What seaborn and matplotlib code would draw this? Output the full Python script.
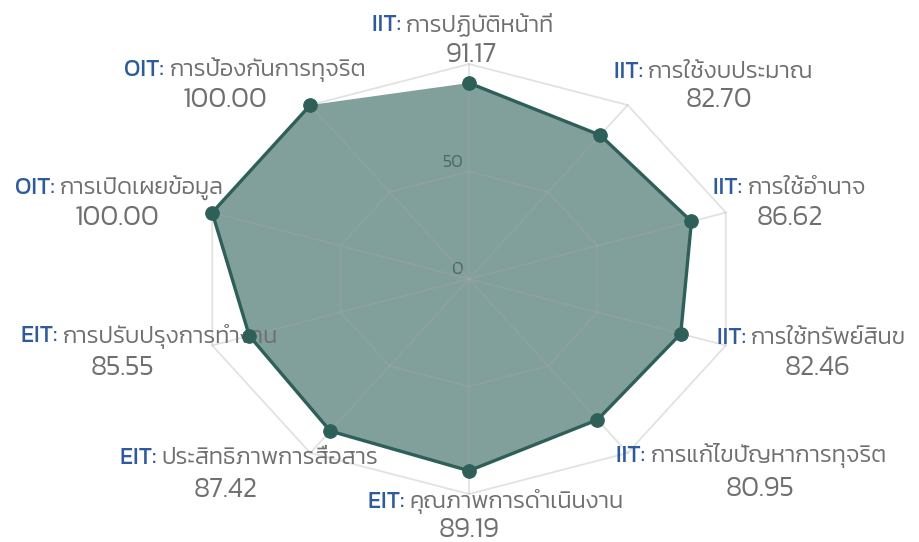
import numpy as np
import matplotlib
matplotlib.use('Agg')
import matplotlib.pyplot as plt
import seaborn as sns
from matplotlib import font_manager

# data
prefixes = ['IIT:', 'IIT:', 'IIT:', 'IIT:', 'IIT:',
            'EIT:', 'EIT:', 'EIT:', 'OIT:', 'OIT:']
categories = ['การปฏิบัติหน้าที่', 'การใช้งบประมาณ', 'การใช้อำนาจ',
              'การใช้ทรัพย์สินข', 'การแก้ไขปัญหาการทุจริต',
              'คุณภาพการดำเนินงาน', 'ประสิทธิภาพการสื่อสาร',
              'การปรับปรุงการทำงาน', 'การเปิดเผยข้อมูล', 'การป้องกันการทุจริต']
scores = [91.17, 82.70, 86.62, 82.46, 80.95, 89.19, 87.42, 85.55, 100.00, 100.00]
ring_ticks = [0, 50, 100]

# label placement, pixel offsets from the tip of each spoke (x right, y up)
label_off = [(-6, 39), (86, 33), (64, 25), (86, 7), (124, -3),
             (27, -8), (-61, -5), (-63, 9), (-93, 25), (-65, 35)]
value_off = [(2, 9), (91, 5), (64, -5), (92, -23), (132, -36),
             (0, -36), (-85, -37), (-90, -23), (-95, -5), (-85, 5)]

LINE = '#2e5f58'
BLUE = '#2f5b9c'
GRAY = '#6f6f6f'

sns.set_theme(style='white')
names = {f.name for f in font_manager.fontManager.ttflist}
thai = next((n for n in ['Kanit', 'Prompt', 'Mitr', 'Sarabun', 'Athiti'] if n in names), 'DejaVu Sans')
plt.rcParams['font.family'] = [thai, 'DejaVu Sans']

fig = plt.figure(figsize=(9.2, 5.42), dpi=100)
ax = fig.add_axes([199 / 920, 48 / 542, 540 / 920, 430 / 542], projection='polar')
ax.set_aspect('auto')
ax.set_theta_offset(np.pi / 2)
ax.set_theta_direction(-1)
ax.grid(False)
ax.spines['polar'].set_visible(False)
ax.set_xticks([])
ax.set_yticks([])
ax.set_facecolor('none')

n = len(scores)
angles = np.linspace(0, 2 * np.pi, n, endpoint=False)
closed = np.append(angles, angles[0])

# polygon grid, drawn over the fill so it shows lighter inside it
for r in ring_ticks[1:]:
    ax.plot(closed, [r] * (n + 1), color='#a8a8a8', alpha=0.33, lw=1.3, zorder=3,
            clip_on=False)
for a in angles:
    ax.plot([a, a], [0, ring_ticks[-1]], color='#a8a8a8', alpha=0.33, lw=1.3, zorder=3,
            clip_on=False)
for r in ring_ticks[:-1]:
    ax.annotate(str(r), xy=(0, r), textcoords='offset pixels', xytext=(-6, 9),
                ha='right', va='center', fontsize=13, color='#7a7a7a',
                fontweight=300, zorder=1)

vals = np.append(scores, scores[0])
ax.fill(closed, vals, color=LINE, alpha=0.6, lw=0, zorder=2)
sns.lineplot(x=closed, y=vals, sort=False, color=LINE, lw=2.4, ax=ax, zorder=4,
             clip_on=False)
sns.scatterplot(x=angles, y=scores, color=LINE, s=95, edgecolor=LINE, ax=ax, zorder=5,
                clip_on=False)
ax.set_ylim(0, 100)
ax.set_xlabel('')
ax.set_ylabel('')

# category labels: blue prefix + gray name, centred on their offset
pre_txt, name_txt = [], []
for i in range(n):
    p = ax.annotate(prefixes[i] + ' ', xy=(angles[i], 100), textcoords='offset pixels',
                    xytext=label_off[i], ha='left', va='center',
                    fontsize=17, color=BLUE, fontweight=400, annotation_clip=False)
    t = ax.annotate(categories[i], xy=(angles[i], 100), textcoords='offset pixels',
                    xytext=label_off[i], ha='left', va='center',
                    fontsize=17, color=GRAY, fontweight=300, annotation_clip=False)
    pre_txt.append(p)
    name_txt.append(t)
    ax.annotate(f'{scores[i]:.2f}', xy=(angles[i], 100), textcoords='offset pixels',
                xytext=value_off[i], ha='center', va='center',
                fontsize=20, color=GRAY, fontweight=300, annotation_clip=False)

fig.canvas.draw()
rend = fig.canvas.get_renderer()
for i in range(n):
    wp = pre_txt[i].get_window_extent(rend).width
    wt = name_txt[i].get_window_extent(rend).width
    dx, dy = label_off[i]
    left = dx - (wp + wt) / 2
    pre_txt[i].xyann = (left, dy)
    name_txt[i].xyann = (left + wp, dy)

fig.savefig('out.png', dpi=100)
